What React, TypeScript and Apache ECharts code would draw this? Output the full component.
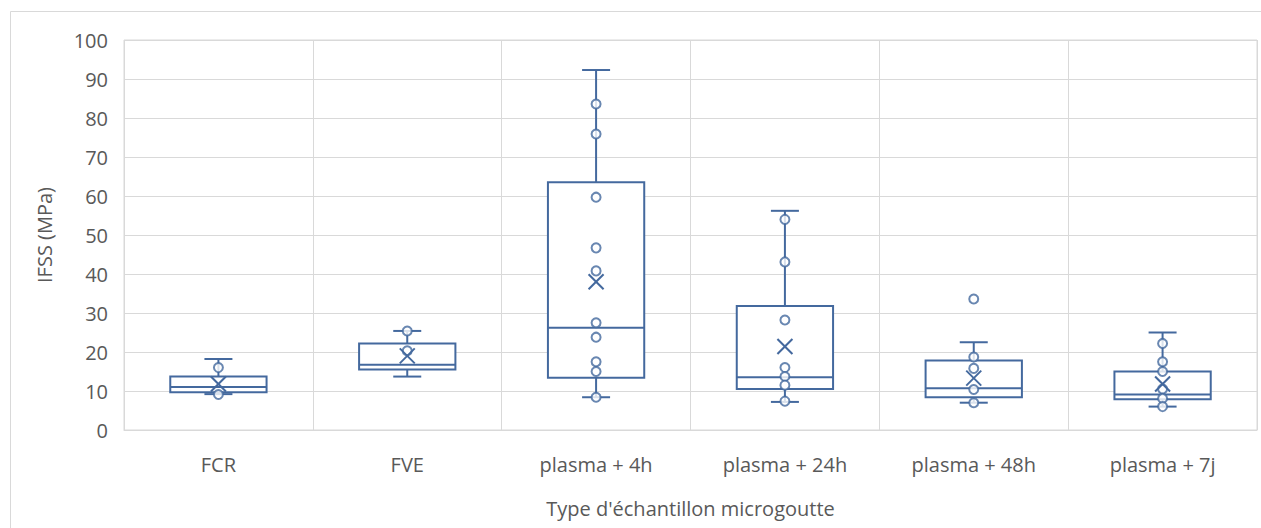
import React, { useEffect, useRef } from "react";
import * as echarts from "echarts";

const categories = ["FCR", "FVE", "plasma + 4h", "plasma + 24h", "plasma + 48h", "plasma + 7j"];
const whiskerLow = [9.2, 13.7, 8.4, 7.2, 7.0, 6.0];
const q1 = [9.7, 15.5, 13.4, 10.5, 8.4, 7.9];
const median = [11.0, 16.7, 26.2, 13.5, 10.7, 9.1];
const q3 = [13.7, 22.2, 63.5, 31.8, 17.8, 15.0];
const whiskerHigh = [18.2, 25.4, 92.3, 56.2, 22.5, 25.0];
const means = [11.8, 19.0, 38.0, 21.4, 13.3, 11.8];
const points: number[][] = [
  [16.0, 9.1],
  [25.4, 20.3],
  [83.6, 75.9, 59.7, 46.7, 40.8, 27.5, 23.8, 17.5, 15.0, 8.4],
  [54.0, 43.1, 28.2, 16.0, 13.7, 11.5, 7.4],
  [33.6, 18.7, 15.8, 10.4, 7.0],
  [22.2, 17.5, 15.0, 10.5, 8.1, 6.0],
];
const yTicks = { min: 0, max: 100, interval: 10 };

const BLUE = "#44699E";
const GRID = "#D9D9D9";
const TEXT = "#595959";
const FONT = "'Open Sans', 'Noto Sans', sans-serif";
const FS = 20;

export default function App() {
  const ref = useRef<HTMLDivElement>(null);
  useEffect(() => {
    if (!ref.current) return;
    const chart = echarts.init(ref.current, undefined, { renderer: "svg" });
    const boxData = categories.map((_, i) => [i, whiskerLow[i], q1[i], median[i], q3[i], whiskerHigh[i]]);
    const pointData: number[][] = [];
    points.forEach((arr, i) => arr.forEach((v) => pointData.push([i, v])));
    const meanData = means.map((m, i) => [i, m]);

    chart.setOption({
      animation: false,
      textStyle: { fontFamily: FONT },
      graphic: [
        {
          type: "rect",
          shape: { x: 10.5, y: 11.5, width: 1300, height: 600 },
          style: { fill: "none", stroke: GRID, lineWidth: 1 },
          silent: true,
        },
      ],
      grid: {
        left: 124,
        top: 40,
        width: 1133,
        height: 390,
        show: true,
        borderColor: GRID,
        borderWidth: 1,
        backgroundColor: "transparent",
      },
      xAxis: {
        type: "category",
        data: categories,
        boundaryGap: true,
        axisLine: { show: true, lineStyle: { color: GRID, width: 1 } },
        axisTick: { show: false },
        splitLine: { show: true, interval: 0, lineStyle: { color: GRID, width: 1 } },
        axisLabel: { color: TEXT, fontSize: FS, margin: 24, fontFamily: FONT, interval: 0 },
        name: "Type d'échantillon microgoutte",
        nameLocation: "middle",
        nameGap: 68,
        nameTextStyle: { color: TEXT, fontSize: FS, fontFamily: FONT },
      },
      yAxis: {
        type: "value",
        min: yTicks.min,
        max: yTicks.max,
        interval: yTicks.interval,
        axisLine: { show: false },
        axisTick: { show: false },
        splitLine: { show: true, lineStyle: { color: GRID, width: 1 } },
        axisLabel: { color: TEXT, fontSize: FS, margin: 16, fontFamily: FONT },
        name: "IFSS (MPa)",
        nameLocation: "middle",
        nameGap: 70,
        nameTextStyle: { color: TEXT, fontSize: FS, fontFamily: FONT },
      },
      series: [
        {
          type: "custom",
          data: boxData,
          encode: { x: 0, y: [1, 2, 3, 4, 5] },
          z: 2,
          renderItem: (params: any, api: any) => {
            const x = api.value(0);
            const lo = api.coord([x, api.value(1)]);
            const a = api.coord([x, api.value(2)]);
            const m = api.coord([x, api.value(3)]);
            const b = api.coord([x, api.value(4)]);
            const hi = api.coord([x, api.value(5)]);
            const bw = api.size([1, 0])[0] * 0.51;
            const cap = 28;
            const cx = lo[0];
            const ls = { stroke: BLUE, lineWidth: 2 };
            return {
              type: "group",
              children: [
                { type: "line", shape: { x1: cx, y1: b[1], x2: cx, y2: hi[1] }, style: ls },
                { type: "line", shape: { x1: cx, y1: a[1], x2: cx, y2: lo[1] }, style: ls },
                { type: "line", shape: { x1: cx - cap / 2, y1: hi[1], x2: cx + cap / 2, y2: hi[1] }, style: ls },
                { type: "line", shape: { x1: cx - cap / 2, y1: lo[1], x2: cx + cap / 2, y2: lo[1] }, style: ls },
                {
                  type: "rect",
                  shape: { x: cx - bw / 2, y: b[1], width: bw, height: a[1] - b[1] },
                  style: { fill: "#fff", stroke: BLUE, lineWidth: 2 },
                },
                { type: "line", shape: { x1: cx - bw / 2, y1: m[1], x2: cx + bw / 2, y2: m[1] }, style: ls },
              ],
            };
          },
        },
        {
          type: "scatter",
          data: pointData,
          symbol: "circle",
          symbolSize: 9,
          z: 3,
          itemStyle: { color: "#fff", borderColor: BLUE, borderWidth: 2 },
        },
        {
          type: "custom",
          data: meanData,
          encode: { x: 0, y: 1 },
          z: 4,
          renderItem: (params: any, api: any) => {
            const p = api.coord([api.value(0), api.value(1)]);
            const h = 7.5;
            const ls = { stroke: BLUE, lineWidth: 2 };
            return {
              type: "group",
              children: [
                { type: "line", shape: { x1: p[0] - h, y1: p[1] - h, x2: p[0] + h, y2: p[1] + h }, style: ls },
                { type: "line", shape: { x1: p[0] - h, y1: p[1] + h, x2: p[0] + h, y2: p[1] - h }, style: ls },
              ],
            };
          },
        },
      ],
    });
    return () => chart.dispose();
  }, []);
  return (
    <div
      ref={ref}
      style={{ position: "fixed", left: 0, top: 0, width: 1261, height: 528, background: "#fff" }}
    />
  );
}
